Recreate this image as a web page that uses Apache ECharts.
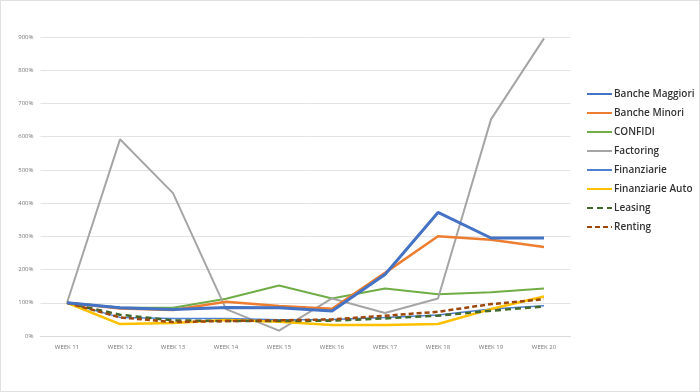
<!DOCTYPE html>
<html><head><meta charset="utf-8">
<script src="https://cdn.jsdelivr.net/npm/echarts@6/dist/echarts.min.js"></script>
<style>html,body{margin:0;padding:0;background:#fff}#c{width:700px;height:392px;box-sizing:border-box;border:1px solid #e0e0e0}</style>
</head><body><div id="c"></div>
<script>
const weeks = ['WEEK 11','WEEK 12','WEEK 13','WEEK 14','WEEK 15','WEEK 16','WEEK 17','WEEK 18','WEEK 19','WEEK 20'];
const bancheMaggiori = [100, 85, 80, 86, 85, 75, 185, 372, 295, 295];
const bancheMinori   = [100, 83, 78, 103, 90, 82, 190, 300, 290, 268];
const confidi        = [100, 86, 85, 112, 152, 113, 143, 126, 132, 143];
const factoring      = [100, 592, 430, 81, 16, 113, 69, 113, 652, 896];
const finanziarie    = [100, 56, 53, 53, 49, 50, 56, 63, 81, 91];
const finanziarieAuto= [100, 36, 39, 48, 43, 33, 33, 36, 81, 119];
const leasing        = [100, 64, 47, 45, 45, 46, 53, 61, 76, 89];
const renting        = [100, 56, 42, 45, 47, 50, 61, 73, 96, 111];
const yTicks = {min: 0, max: 900, interval: 100};

const chart = echarts.init(document.getElementById('c'));
function s(name, data, color, width, type, z) {
  return {name, type: 'line', data, symbol: 'none', z: z || 2,
    lineStyle: {color, width, type: type || 'solid'}, itemStyle: {color}};
}
chart.setOption({
  animation: false,
  grid: {left: 39.5, right: 128.5, top: 36, bottom: 55},
  legend: {
    orient: 'vertical', left: 585, top: 88, padding: 0, itemGap: 9,
    itemWidth: 25, itemHeight: 12,
    itemStyle: {opacity: 0},
    textStyle: {fontFamily: 'Open Sans', fontSize: 10, color: '#333', fontWeight: 600, padding: [0,0,0,-3]},
    data: ['Banche Maggiori','Banche Minori','CONFIDI','Factoring','Finanziarie','Finanziarie Auto','Leasing','Renting']
  },
  xAxis: {
    type: 'category', data: weeks, boundaryGap: true,
    axisLine: {lineStyle: {color: '#d9d9d9'}}, axisTick: {show: false},
    axisLabel: {fontFamily: 'Open Sans', fontSize: 6, color: '#777', margin: 8}
  },
  yAxis: {
    type: 'value', min: yTicks.min, max: yTicks.max, interval: yTicks.interval,
    axisLine: {show: false}, axisTick: {show: false},
    axisLabel: {formatter: '{value}%', fontFamily: 'Open Sans', fontSize: 6, color: '#777', margin: 7},
    splitLine: {lineStyle: {color: '#e3e3e3', width: 1}}
  },
  series: [
    s('Banche Maggiori', bancheMaggiori, '#4472C4', 3, 'solid', 5),
    s('Banche Minori', bancheMinori, '#ED7D31', 2.5, 'solid', 4),
    s('CONFIDI', confidi, '#70AD47', 2),
    s('Factoring', factoring, '#A5A5A5', 2),
    s('Finanziarie', finanziarie, '#4F81D0', 1.5),
    s('Finanziarie Auto', finanziarieAuto, '#FFC000', 2.5),
    s('Leasing', leasing, '#43682B', 2.5, [6,4], 3),
    s('Renting', renting, '#9E480E', 2.5, [5,3], 3)
  ]
});
</script></body></html>
